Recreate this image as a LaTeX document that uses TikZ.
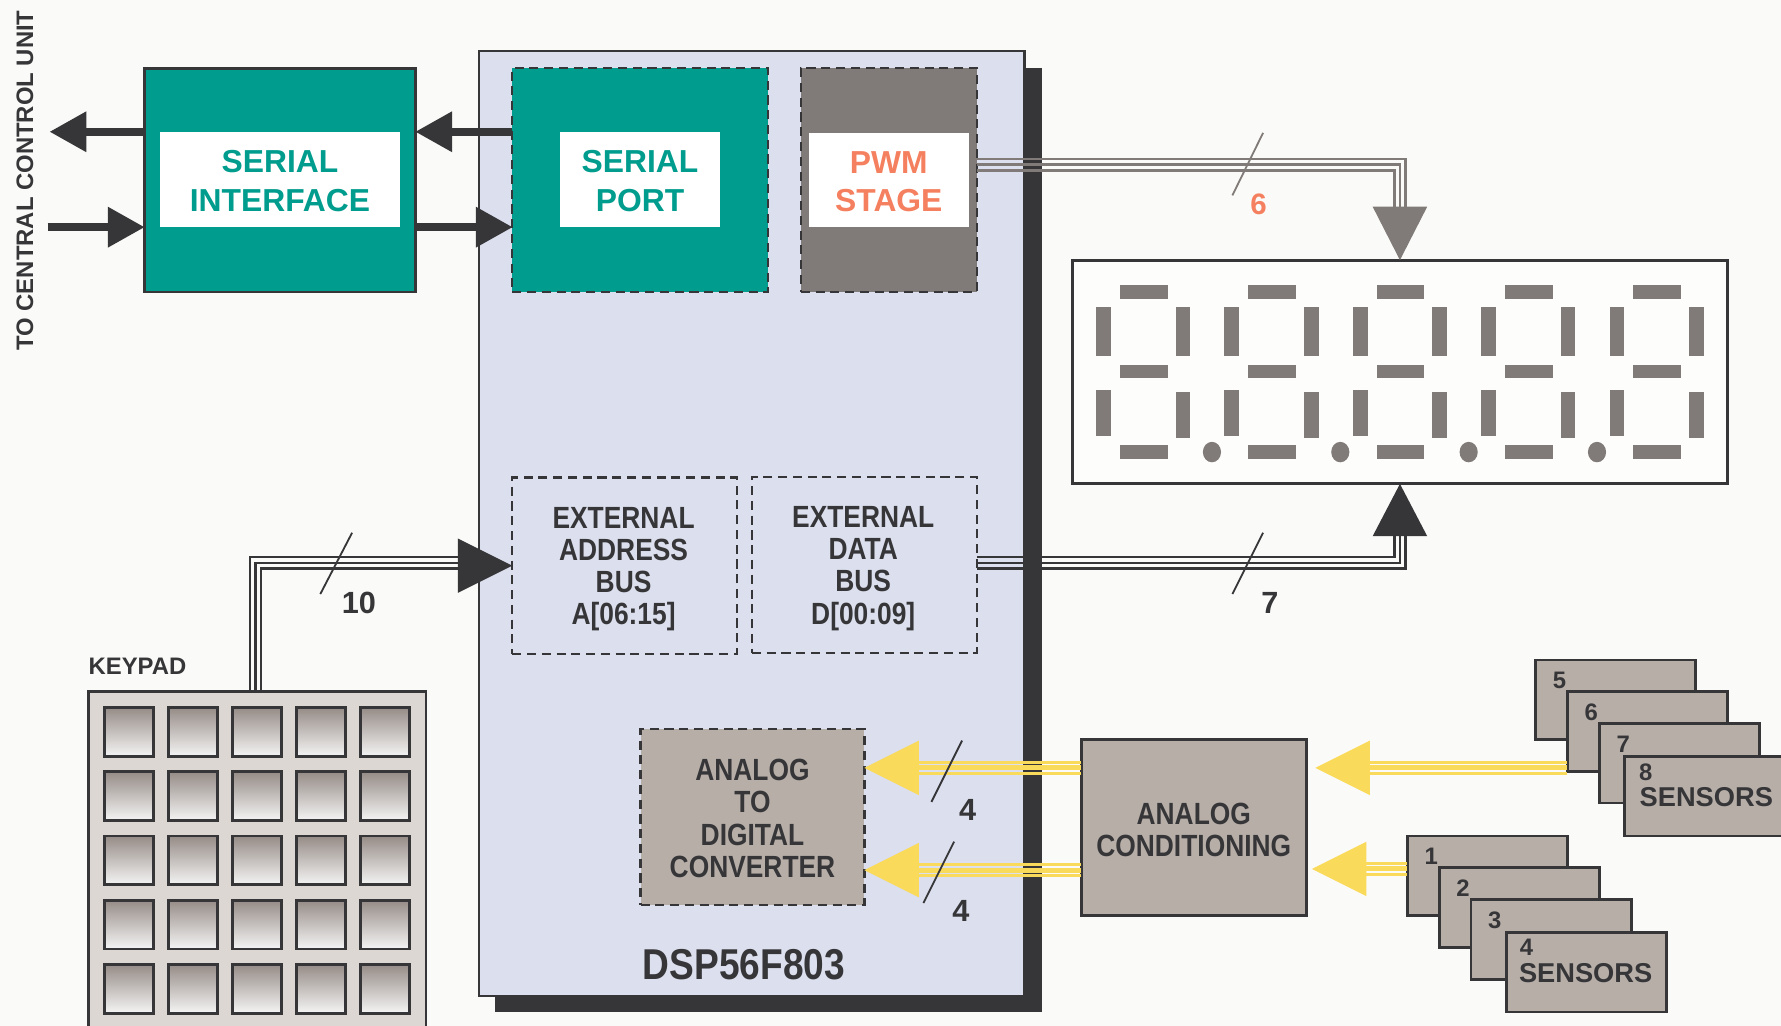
\documentclass[tikz,border=0pt]{standalone}
\usepackage{fontspec}
\setmainfont{Liberation Sans}
\newfontfamily\condfont{Liberation Sans}[FakeStretch=0.86]
\usetikzlibrary{calc}

\definecolor{bgc}{RGB}{250,250,248}
\definecolor{ink}{RGB}{54,54,57}
\definecolor{tealc}{RGB}{0,156,141}
\definecolor{dspfill}{RGB}{220,223,237}
\definecolor{pwmgray}{RGB}{128,123,120}
\definecolor{salmon}{RGB}{245,128,95}
\definecolor{warm}{RGB}{183,174,168}
\definecolor{padc}{RGB}{220,215,210}
\definecolor{sunny}{RGB}{250,218,90}
\definecolor{keytop}{RGB}{150,140,135}
\definecolor{keymid}{RGB}{212,207,204}

\begin{document}
\begin{tikzpicture}[x=1pt,y=-1pt,
  blk/.style={draw=ink, line width=2.5pt, inner sep=0pt, outer sep=0pt},
  dashblk/.style={draw=ink, line width=2pt, dash pattern=on 8pt off 5pt, inner sep=0pt, outer sep=0pt},
  labelbox/.style={fill=white, inner sep=0pt, outer sep=0pt},
  bigtxt/.style={align=center, font=\bfseries\fontsize{28}{34}\selectfont},
  condtxt/.style={font=\condfont\bfseries\fontsize{27}{28.3}\selectfont, text=ink, align=center},
  numtxt/.style={font=\bfseries\fontsize{27}{28}\selectfont, text=ink},
  sensbox/.style={blk, fill=warm, minimum width=141pt, minimum height=70pt, anchor=north west},
  sensnum/.style={font=\bfseries\fontsize{21}{22}\selectfont, text=ink},
  senstxt/.style={font=\bfseries\fontsize{24}{26}\selectfont, text=ink},
  fatline/.style={ink, line width=7pt},
  wire/.style={line width=2.2pt},
  tick/.style={line width=1.6pt},
  keycap/.style={draw=ink, line width=2.5pt, minimum size=43pt, inner sep=0pt,
    top color=keytop, middle color=keymid, bottom color=white!96!black},
  seg/.style={fill=pwmgray}
]
\useasboundingbox (0,0) rectangle (1568,903);
\fill[bgc] (0,0) rectangle (1568,903);
\clip (0,0) rectangle (1568,903);

% ---------- link to the central control unit ----------
\node[rotate=90, font=\bfseries\fontsize{21}{22}\selectfont, text=ink] (ccu) at (22,159) {TO CENTRAL CONTROL UNIT};

% ---------- serial interface ----------
\node[blk, fill=tealc, minimum width=239pt, minimum height=197pt] (serint) at (246.5,158.5) {};
\node[labelbox, minimum width=211pt, minimum height=84pt] (silab) at (246.5,158) {};
\node[bigtxt, text=tealc] (sitxt) at ($(silab.center)+(0,1.5)$) {SERIAL\\INTERFACE};

% ---------- DSP56F803 body ----------
\fill[ink] (436,60) rectangle (917,891);
\node[draw=ink, line width=2pt, fill=dspfill, minimum width=480pt, minimum height=832pt, inner sep=0pt, outer sep=0pt] (dsp) at (662,461) {};
\node[font=\condfont\bfseries\fontsize{38}{40}\selectfont, text=ink] (dspname) at (655,849) {DSP56F803};

\node[dashblk, fill=tealc, minimum width=225pt, minimum height=197pt] (sport) at (563.5,158.5) {};
\node[labelbox, minimum width=141pt, minimum height=84pt] (splab) at (563.5,158) {};
\node[bigtxt, text=tealc] (sptxt) at ($(splab.center)+(0,1.5)$) {SERIAL\\PORT};

\node[dashblk, fill=pwmgray, minimum width=155pt, minimum height=197pt] (pwm) at (782.5,158.5) {};
\node[labelbox, minimum width=141pt, minimum height=83pt] (pwmlab) at (782.5,158.5) {};
\node[bigtxt, text=salmon] (pwmtxt) at ($(pwmlab.center)+(0,1.5)$) {PWM\\STAGE};

\node[dashblk, minimum width=198pt, minimum height=155pt] (addr) at (550,498) {};
\node[condtxt] (addrtxt) at ($(addr.center)+(-1,3)$) {EXTERNAL\\ADDRESS\\BUS\\A[06:15]};
\node[dashblk, minimum width=198pt, minimum height=155pt] (data) at (761,497.5) {};
\node[condtxt] (datatxt) at ($(data.center)+(-1,3)$) {EXTERNAL\\DATA\\BUS\\D[00:09]};

\node[dashblk, fill=warm, minimum width=197pt, minimum height=155pt] (adc) at (662.5,719.5) {};
\node[condtxt] (adctxt) at ($(adc.center)+(0,1)$) {ANALOG\\TO\\DIGITAL\\CONVERTER};

% ---------- serial arrows ----------
\coordinate (ccuout) at (44,116);
\coordinate (ccuin) at (42,200);
\draw[fatline] (serint.west |- silab.north) -- ($(ccuout)+(31,0)$);
\fill[ink] (ccuout) -- ++(32,-18) -- ++(0,36) -- cycle;
\draw[fatline] (ccuin) -- ($(serint.west |- silab.south)+(-31,0)$);
\fill[ink] (serint.west |- silab.south) -- ++(-32,-18) -- ++(0,36) -- cycle;
\draw[fatline] (sport.west |- silab.north) -- ($(serint.east |- silab.north)+(31,0)$);
\fill[ink] (serint.east |- silab.north) -- ++(32,-18) -- ++(0,36) -- cycle;
\draw[fatline] (serint.east |- silab.south) -- ($(sport.west |- silab.south)+(-31,0)$);
\fill[ink] (sport.west |- silab.south) -- ++(-32,-18) -- ++(0,36) -- cycle;

% ---------- seven-segment display ----------
\node[blk, fill=bgc!40!white, minimum width=577pt, minimum height=197pt] (disp) at (1232.5,327.5) {};
\foreach \d in {0,...,4}{
  \pgfmathsetmacro\xo{965+113*\d}
  \fill[seg] (\xo+21,251) rectangle (\xo+63,263);
  \fill[seg] (\xo+21,321) rectangle (\xo+63,333);
  \fill[seg] (\xo+21,392) rectangle (\xo+63,404);
  \fill[seg] (\xo,270) rectangle (\xo+13,313);
  \fill[seg] (\xo+70,270) rectangle (\xo+83,313);
  \fill[seg] (\xo,343) rectangle (\xo+13,384);
  \fill[seg] (\xo+70,345) rectangle (\xo+83,386);
}
\foreach \d in {0,...,3}{
  \fill[seg] (1067+113*\d,398) ellipse [x radius=8, y radius=9];
}

% ---------- PWM bus (6 lines) ----------
\foreach \k in {-1,0,1}{
  \draw[wire, pwmgray] ($(pwm.east)+(0,-13.5+5*\k)$) -| ($(disp.north)+(-5*\k,-47)$);
}
\fill[pwmgray] (disp.north) -- ++(-24,-47) -- ++(48,0) -- cycle;
\draw[tick, pwmgray] (1085,172) -- (1112,117);
\node[font=\bfseries\fontsize{26}{28}\selectfont, text=salmon] (n6) at (1108,180) {6};

% ---------- data bus (7 lines) ----------
\foreach \k in {-1,0,1}{
  \draw[wire, ink] ($(data.east)+(0,-2+5*\k)$) -| ($(disp.south)+(5*\k,46)$);
}
\fill[ink] (disp.south) -- ++(-24,46) -- ++(48,0) -- cycle;
\draw[tick, ink] (1085,523) -- (1112,469);
\node[numtxt] (n7) at (1118,531) {7};

% ---------- keypad ----------
\node[font=\bfseries\fontsize{21}{22}\selectfont, text=ink] (padname) at (121,587) {KEYPAD};
\node[blk, fill=padc, minimum width=297pt, minimum height=306pt] (keypad) at (226.5,762) {};
\foreach \i in {0,...,4}{
  \foreach \j in {0,...,4}{
    \node[keycap] (k\i\j) at (113.5+56.3*\j, 644.5+56.5*\i) {};
  }
}

% ---------- address bus (10 lines) ----------
\foreach \k in {-1,0,1}{
  \draw[wire, ink] ($(keypad.north)+(-1.5+5*\k,0)$) |- ($(addr.west)+(-48,-2.5+5*\k)$);
}
\fill[ink] (addr.west) -- ++(-48,-24) -- ++(0,48) -- cycle;
\draw[tick, ink] (282,523) -- (310,469);
\node[numtxt] (n10) at (316,531) {10};

% ---------- analog conditioning ----------
\node[blk, fill=warm, minimum width=198pt, minimum height=155pt] (ac) at (1051,728.5) {};
\node[condtxt] (actxt) at ($(ac.center)+(0,2)$) {ANALOG\\CONDITIONING};

% conditioned channels into the converter
\foreach \k/\w in {-1/2.5,0/4.5,1/2.5}{
  \draw[sunny, line width=\w pt] ($(ac.west)+(0,-52.5+5*\k)$) -- ($(adc.east |- ac.west)+(46,-52.5+5*\k)$);
  \draw[sunny, line width=\w pt] ($(ac.west)+(0,37.5+5*\k)$) -- ($(adc.east |- ac.west)+(46,37.5+5*\k)$);
}
\fill[sunny] ($(adc.east |- ac.west)+(0,-52.5)$) -- ++(48,-24) -- ++(0,48) -- cycle;
\fill[sunny] ($(adc.east |- ac.west)+(0,37.5)$) -- ++(48,-24) -- ++(0,48) -- cycle;
\draw[tick, ink] (820,706) -- (847,652);
\draw[tick, ink] (813,795) -- (840,741);
\node[numtxt] (n4a) at (852,713) {4};
\node[numtxt] (n4b) at (846,802) {4};

% ---------- sensors ----------
\node[sensbox] (s5) at (1352,581) {};
\node[sensbox] (s6) at (1380,609) {};
\node[sensbox] (s7) at (1408,637) {};
\node[sensbox] (s8) at (1430,666) {};
\node[sensnum] (t5) at ($(s5.north west)+(21,18)$) {5};
\node[sensnum] (t6) at ($(s6.north west)+(21,18)$) {6};
\node[sensnum] (t7) at ($(s7.north west)+(21,18)$) {7};
\node[sensnum] (t8) at ($(s8.north west)+(19,14)$) {8};
\node[senstxt, anchor=west] (st8) at (1440,702) {SENSORS};

\node[sensbox] (s1) at (1239,736) {};
\node[sensbox] (s2) at (1267,764) {};
\node[sensbox] (s3) at (1295,792) {};
\node[sensbox] (s4) at (1326,821) {};
\node[sensnum] (t1) at ($(s1.north west)+(21,18)$) {1};
\node[sensnum] (t2) at ($(s2.north west)+(21,18)$) {2};
\node[sensnum] (t3) at ($(s3.north west)+(21,18)$) {3};
\node[sensnum] (t4) at ($(s4.north west)+(18,13)$) {4};
\node[senstxt] (st4) at (1396,857) {SENSORS};

% sensor channels into the conditioning block
\coordinate (tipA) at ($(ac.east)+(8,-52.5)$);
\coordinate (tipB) at ($(ac.east)+(5,36.5)$);
\foreach \k/\w in {-1/2.5,0/4.5,1/2.5}{
  \draw[sunny, line width=\w pt] ($(s6.west |- tipA)+(0,5*\k)$) -- ($(tipA)+(46,5*\k)$);
  \draw[sunny, line width=\w pt] ($(s1.west |- tipB)+(0,5*\k)$) -- ($(tipB)+(46,5*\k)$);
}
\fill[sunny] (tipA) -- ++(48,-24) -- ++(0,48) -- cycle;
\fill[sunny] (tipB) -- ++(48,-24) -- ++(0,48) -- cycle;
\end{tikzpicture}
\end{document}
